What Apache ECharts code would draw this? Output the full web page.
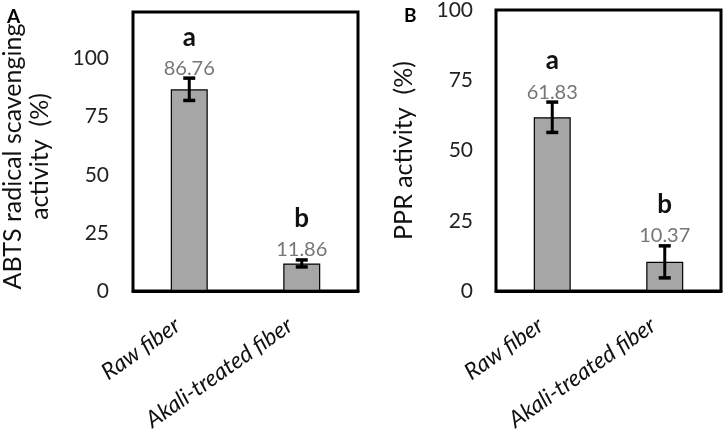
<!DOCTYPE html>
<html>
<head>
<meta charset="utf-8">
<script src="https://cdn.jsdelivr.net/npm/echarts@6/dist/echarts.min.js"></script>
<style>
  html, body { margin: 0; padding: 0; background: #fff; }
  #chart { width: 726px; height: 429px; }
</style>
</head>
<body>
<div id="chart"></div>
<script>
// data
var categories = ['Raw fiber', 'Akali-treated fiber']
var abtsValues = [86.76, 11.86]
var abtsErrors = [4.8, 1.5]
var abtsLetters = ['a', 'b']
var pprValues = [61.83, 10.37]
var pprErrors = [5.4, 5.7]
var pprLetters = ['a', 'b']
var abtsTicks = [0, 25, 50, 75, 100]
var pprTicks = [0, 25, 50, 75, 100]

var font = 'Lato'

function errorSeries(idx, values, errors, letters) {
  var data = []
  for (var i = 0; i < values.length; i++) {
    data.push([i, values[i], errors[i]])
  }
  return {
    type: 'custom',
    xAxisIndex: idx,
    yAxisIndex: idx,
    z: 4,
    silent: true,
    data: data,
    encode: { x: 0, y: 1 },
    renderItem: function(params, api) {
      var x = api.value(0)
      var v = api.value(1)
      var e = api.value(2)
      var top = api.coord([x, v + e])
      var bot = api.coord([x, v - e])
      var hw = 6
      return {
        type: 'group',
        children: [
          {
            type: 'line',
            shape: { x1: top[0], y1: top[1], x2: bot[0], y2: bot[1] },
            style: { stroke: '#000', lineWidth: 3 }
          },
          {
            type: 'line',
            shape: { x1: top[0] - hw, y1: top[1], x2: top[0] + hw, y2: top[1] },
            style: { stroke: '#000', lineWidth: 3.5 }
          },
          {
            type: 'line',
            shape: { x1: bot[0] - hw, y1: bot[1], x2: bot[0] + hw, y2: bot[1] },
            style: { stroke: '#000', lineWidth: 3.5 }
          },
          {
            type: 'text',
            x: top[0],
            y: top[1] - 10,
            style: {
              text: values[params.dataIndex].toFixed(2),
              fill: '#767676',
              font: '20px ' + font,
              align: 'center',
              verticalAlign: 'middle'
            }
          },
          {
            type: 'text',
            x: top[0],
            y: top[1] - 41,
            style: {
              text: letters[params.dataIndex],
              fill: '#111',
              font: 'bold 26px ' + font,
              align: 'center',
              verticalAlign: 'middle'
            }
          }
        ]
      }
    }
  }
}

function tickFormatter(ticks) {
  return function(v) {
    return ticks.indexOf(v) >= 0 ? String(v) : ''
  }
}

var chart = echarts.init(document.getElementById('chart'))

var xAxisBase = {
  type: 'category',
  data: categories,
  z: 5,
  axisTick: { show: false },
  axisLine: { show: true, lineStyle: { color: '#000', width: 3 } },
  axisLabel: {
    rotate: 35,
    margin: 24,
    padding: [0, 14, 0, 0],
    color: '#111',
    fontFamily: font,
    fontStyle: 'italic',
    fontSize: 23,
    interval: 0
  }
}

var option = {
  animation: false,
  textStyle: { fontFamily: font },
  title: [
    { text: 'A', left: 2, top: 2, textStyle: { fontSize: 19, fontWeight: 'bold', color: '#000', fontFamily: font } },
    { text: 'B', left: 399, top: 1, textStyle: { fontSize: 19, fontWeight: 'bold', color: '#000', fontFamily: font } }
  ],
  grid: [
    { left: 133, right: 368, top: 12, bottom: 138, outerBoundsMode: 'none', show: true, borderColor: '#000', borderWidth: 3 },
    { left: 496, right: 5, top: 10, bottom: 138, outerBoundsMode: 'none', show: true, borderColor: '#000', borderWidth: 3 }
  ],
  xAxis: [
    Object.assign({ gridIndex: 0 }, xAxisBase),
    Object.assign({ gridIndex: 1 }, xAxisBase)
  ],
  yAxis: [
    {
      gridIndex: 0,
      type: 'value',
      min: 0,
      max: 120,
      interval: 25,
      name: 'ABTS radical scavenging\nactivity  (%)',
      nameLocation: 'middle',
      nameGap: 80,
      nameTextStyle: { fontSize: 25, color: '#111', fontFamily: font, lineHeight: 27, padding: [0, 10, 0, 0] },
      axisLine: { show: false },
      axisTick: { show: false },
      splitLine: { show: false },
      axisLabel: { margin: 24, fontSize: 21, color: '#222', fontFamily: font, formatter: tickFormatter(abtsTicks) }
    },
    {
      gridIndex: 1,
      type: 'value',
      min: 0,
      max: 100,
      interval: 25,
      name: 'PPR activity  (%)',
      nameLocation: 'middle',
      nameGap: 80,
      nameTextStyle: { fontSize: 25, color: '#111', fontFamily: font },
      axisLine: { show: false },
      axisTick: { show: false },
      splitLine: { show: false },
      axisLabel: { margin: 23, fontSize: 21, color: '#222', fontFamily: font, formatter: tickFormatter(pprTicks) }
    }
  ],
  series: [
    {
      type: 'bar',
      xAxisIndex: 0,
      yAxisIndex: 0,
      barWidth: 37,
      data: abtsValues,
      itemStyle: { color: '#a6a6a6', borderColor: '#000', borderWidth: 1.2 }
    },
    errorSeries(0, abtsValues, abtsErrors, abtsLetters),
    {
      type: 'bar',
      xAxisIndex: 1,
      yAxisIndex: 1,
      barWidth: 37,
      data: pprValues,
      itemStyle: { color: '#a6a6a6', borderColor: '#000', borderWidth: 1.2 }
    },
    errorSeries(1, pprValues, pprErrors, pprLetters)
  ]
}

chart.setOption(option)
</script>
</body>
</html>
